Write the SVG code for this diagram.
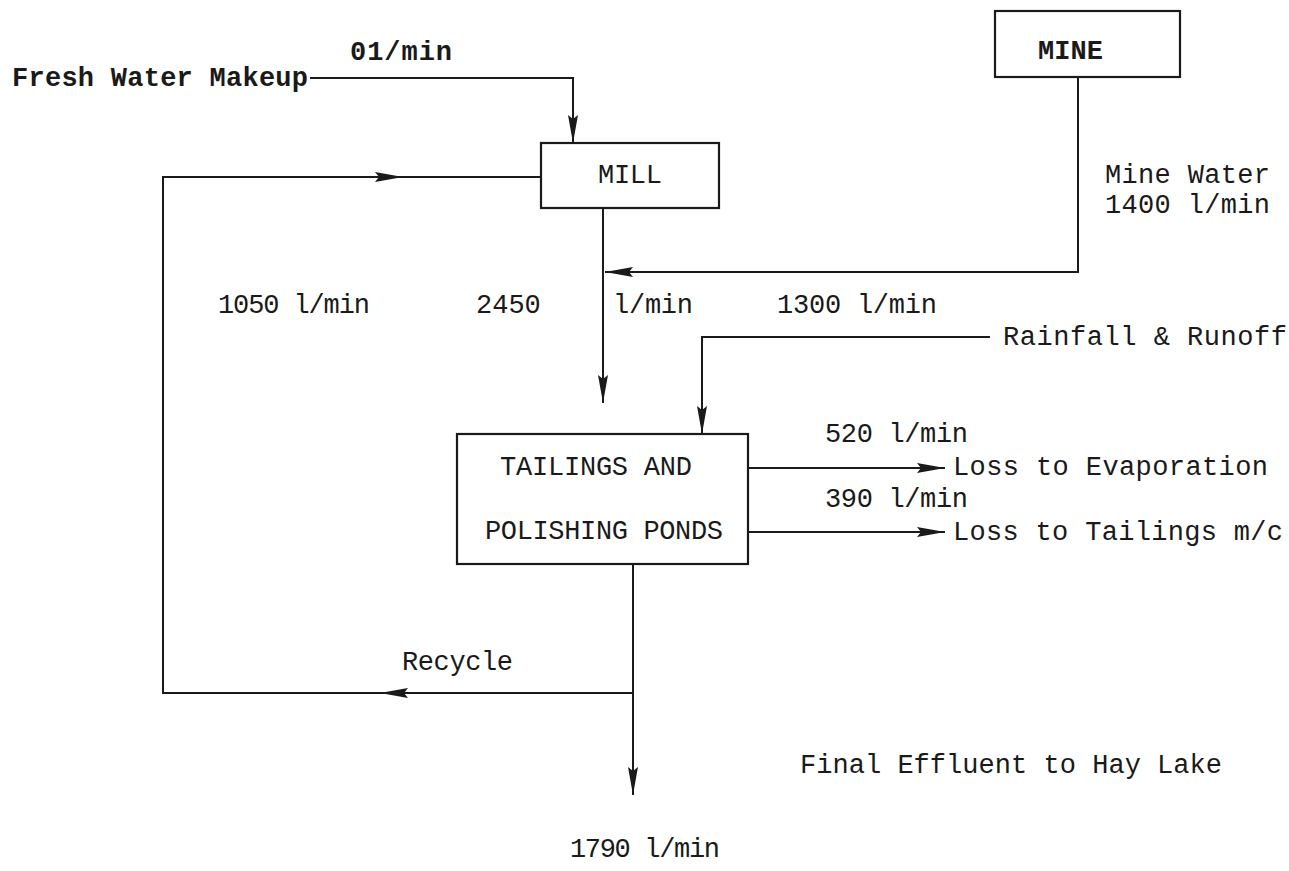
<svg xmlns="http://www.w3.org/2000/svg" width="1289" height="871" viewBox="0 0 1289 871">
<style>
.bg{fill:#ffffff}
.box{fill:#ffffff;stroke:#1a1a1a;stroke-width:2.2}
.ln{fill:none;stroke:#1a1a1a;stroke-width:2}
.t{font-family:"Liberation Mono","DejaVu Sans Mono",monospace;font-size:27px;fill:#1a1a1a}
.b{font-weight:bold}
</style>
<defs>
<marker id="ah" viewBox="0 0 28 10" refX="28" refY="5" markerWidth="28" markerHeight="10" markerUnits="userSpaceOnUse" orient="auto">
<path d="M0,0 L28,5 L0,10 L4,5 z" fill="#1a1a1a"/>
</marker>
</defs>
<rect class="bg" x="0" y="0" width="1289" height="871"/>
<g id="connectors">
<path class="ln" d="M310,78 H573 V143" marker-end="url(#ah)"/>
<path class="ln" d="M633,693 H380" marker-end="url(#ah)"/>
<path class="ln" d="M380,693 H163 V177 H403" marker-end="url(#ah)"/>
<path class="ln" d="M403,177 H541"/>
<path class="ln" d="M603,208 V403" marker-end="url(#ah)"/>
<path class="ln" d="M1078,77 V272 H605" marker-end="url(#ah)"/>
<path class="ln" d="M990,337 H702 V434" marker-end="url(#ah)"/>
<path class="ln" d="M748,468 H945" marker-end="url(#ah)"/>
<path class="ln" d="M748,532 H945" marker-end="url(#ah)"/>
<path class="ln" d="M633,564 V795" marker-end="url(#ah)"/>
</g>
<g id="mine">
<rect class="box" x="995" y="11" width="185" height="66"/>
<text class="t b" x="1038" y="59" textLength="65" lengthAdjust="spacing">MINE</text>
</g>
<g id="mill">
<rect class="box" x="541" y="143" width="178" height="65"/>
<text class="t" x="598" y="183" textLength="64" lengthAdjust="spacing">MILL</text>
</g>
<g id="tailings">
<rect class="box" x="457" y="434" width="291" height="130"/>
<text class="t" x="500" y="475" textLength="192" lengthAdjust="spacing">TAILINGS AND</text>
<text class="t" x="485" y="539" textLength="238" lengthAdjust="spacing">POLISHING PONDS</text>
</g>
<g id="labels">
<text class="t b" x="350" y="60" textLength="102" lengthAdjust="spacing">01/min</text>
<text class="t b" x="12" y="86" textLength="296" lengthAdjust="spacing">Fresh Water Makeup</text>
<text class="t" x="1105" y="183" textLength="165" lengthAdjust="spacing">Mine Water</text>
<text class="t" x="1105" y="213" textLength="165" lengthAdjust="spacing">1400 l/min</text>
<text class="t" x="218" y="313" textLength="152" lengthAdjust="spacing">1050 l/min</text>
<text class="t" x="476" y="313">2450</text>
<text class="t" x="613" y="313" textLength="80" lengthAdjust="spacing">l/min</text>
<text class="t" x="777" y="313" textLength="160" lengthAdjust="spacing">1300 l/min</text>
<text class="t" x="1003" y="345" textLength="284" lengthAdjust="spacing">Rainfall &amp; Runoff</text>
<text class="t" x="825" y="442" textLength="143" lengthAdjust="spacing">520 l/min</text>
<text class="t" x="953" y="475" textLength="315" lengthAdjust="spacing">Loss to Evaporation</text>
<text class="t" x="825" y="507" textLength="143" lengthAdjust="spacing">390 l/min</text>
<text class="t" x="953" y="540" textLength="330" lengthAdjust="spacing">Loss to Tailings m/c</text>
<text class="t" x="402" y="670" textLength="111" lengthAdjust="spacing">Recycle</text>
<text class="t" x="800" y="773" textLength="422" lengthAdjust="spacing">Final Effluent to Hay Lake</text>
<text class="t" x="570" y="857" textLength="150" lengthAdjust="spacing">1790 l/min</text>
</g>
</svg>
